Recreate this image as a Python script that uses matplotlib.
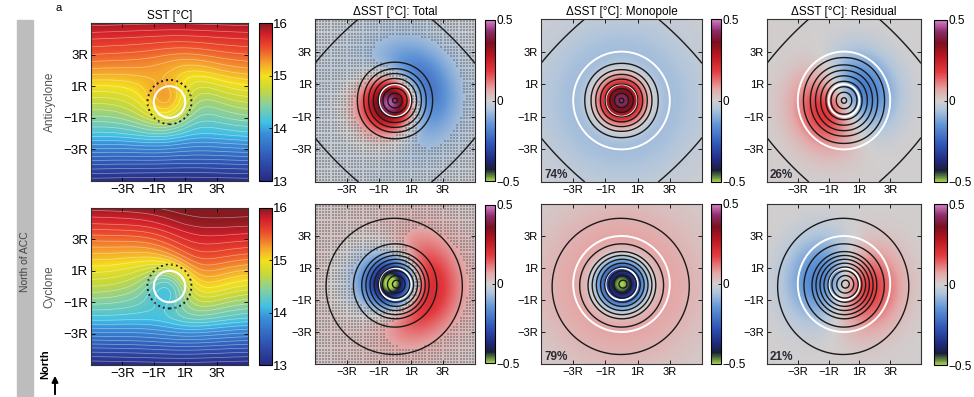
import numpy as np
import matplotlib
matplotlib.use("Agg")
import matplotlib.pyplot as plt
from matplotlib.colors import LinearSegmentedColormap, Normalize
from matplotlib.cm import ScalarMappable
from matplotlib.patches import Circle, Rectangle, FancyArrowPatch

plt.rcParams['font.family'] = ['Liberation Sans', 'DejaVu Sans']

# ---------------- data ----------------
tick_vals = [-3, -1, 1, 3]
tick_labels = ['\u22123R', '\u22121R', '1R', '3R']
row_names = ['Anticyclone', 'Cyclone']
panel_titles = ['SST [\u00b0C]', '\u0394SST [\u00b0C]: Total',
                '\u0394SST [\u00b0C]: Monopole', '\u0394SST [\u00b0C]: Residual']
monopole_share = ['74%', '79%']
residual_share = ['26%', '21%']
sst_ticks = [13, 14, 15, 16]
dsst_ticks = [-0.5, 0, 0.5]
dsst_tick_labels = ['\u22120.5', '0', '0.5']

# background SST meridional profile (deg C) at y nodes (R)
y_nodes = [-5, -4, -3, -2, -1, 0, 1, 2, 3, 4, 5]
sst_profile = [
    [13.05, 13.4, 13.8, 14.2, 14.5, 14.75, 15.02, 15.3, 15.52, 15.72, 15.95],
    [13.0, 13.35, 13.75, 14.15, 14.45, 14.75, 15.02, 15.3, 15.55, 15.8, 16.0],
]
# zonal tilt of the upper isotherms (deg C, east minus west half-difference)
sst_tilt = [0.0, 0.15]

# monopole: core Gaussian + broad Gaussian of opposite sign (deg C, R)
mono_core_amp = [0.55, -0.62]
mono_core_scale = [1.5, 1.45]
mono_broad_amp = [-0.12, 0.12]
mono_broad_scale = [4.5, 4.5]
# residual dipole: peak amplitude (deg C), scale (R), direction of warm lobe (deg)
dip_amp = [0.19, 0.18]
dip_scale = [2.3, 2.5]
dip_angle = [208, -12]

# eddy SSH contours, in units of eddy radius
ring_levels = [
    [0.15, 0.45, 0.75, 1.05, 1.35, 1.65, 1.95, 2.35],
    [0.25, 0.55, 0.85, 1.1, 1.35, 1.6, 1.85, 2.1, 2.6, 4.25],
]
ring_stretch = [[1.0, 0.97, 1.12], [1.0, 1.0, 1.0]]
corner_level = [6.45, None]
# white reference circles (R) for Total, Monopole, Residual
ref_circles = [[1], [1, 3], [1, 3]]
sst_circle_r = 1.0
sst_dotted_r = 1.4
signif_threshold = 0.07

# ---------------- fields ----------------
g = np.linspace(-5, 5, 301)
X, Y = np.meshgrid(g, g)
R = np.hypot(X, Y)
TH = np.arctan2(Y, X)


def monopole(i):
    return (mono_core_amp[i] * np.exp(-(R / mono_core_scale[i]) ** 2)
            + mono_broad_amp[i] * np.exp(-(R / mono_broad_scale[i]) ** 2))


def dipole(i):
    a = np.deg2rad(dip_angle[i])
    L = dip_scale[i]
    u = X * np.cos(a) + Y * np.sin(a)
    peak = (1 / np.sqrt(2)) * np.exp(-0.5)
    return dip_amp[i] / peak * (u / L) * np.exp(-(R / L) ** 2)


def ring_field(i):
    if i == 0:
        p = 2.1
        return (np.abs(X) ** p + np.abs(Y) ** p) ** (1 / p)
    return np.hypot(X - 0.1, Y) * (1 + 0.05 * np.cos(TH - np.pi / 4))


corner_field = (np.abs(X) ** 1.25 + np.abs(Y) ** 1.25) ** (1 / 1.25)

# ---------------- colormaps ----------------
dcmap_nodes = [-0.5, -0.465, -0.43, -0.37, -0.27, -0.15, -0.05, 0.0,
               0.07, 0.18, 0.28, 0.36, 0.43, 0.5]
dcmap_colors = ['#a9d24c', '#55793f', '#1b1f38', '#202a7e', '#2f56b8', '#5f94d6',
                '#b2c6dc', '#d2cfcf', '#e5a7a7', '#e43a3e', '#b8161f', '#7a1020',
                '#8c2d6b', '#d57fc9']
dcmap = LinearSegmentedColormap.from_list(
    'dsst', [((v + 0.5), c) for v, c in zip(dcmap_nodes, dcmap_colors)])
dnorm = Normalize(-0.5, 0.5)

scmap_nodes = [0.0, 0.14, 0.3, 0.37, 0.48, 0.58, 0.667, 0.75, 0.85, 0.93, 1.0]
scmap_colors = ['#282a80', '#2f55b4', '#3a8ed8', '#3fc0e6', '#86cfa0', '#c8d83a',
                '#f4e01c', '#f5a02e', '#ec4a2c', '#d3202a', '#861a20']
scmap = LinearSegmentedColormap.from_list('sst', list(zip(scmap_nodes, scmap_colors)))
snorm = Normalize(13, 16)

# ---------------- figure ----------------
W, H = 974, 397
fig = plt.figure(figsize=(W / 100, H / 100), dpi=100)


def box(l, t, r, b):
    return [l / W, 1 - b / H, (r - l) / W, (b - t) / H]


def style_axes(ax, fs):
    ax.set_xlim(-5, 5)
    ax.set_ylim(-5, 5)
    ax.set_xticks(tick_vals)
    ax.set_yticks(tick_vals)
    ax.set_xticklabels(tick_labels, fontsize=fs)
    ax.set_yticklabels(tick_labels, fontsize=fs)
    ax.tick_params(direction='in', length=3, width=0.6, top=True, right=True, pad=2)
    for s in ax.spines.values():
        s.set_linewidth(0.8)
        s.set_color('#333333')


def style_cbar(cb, ticks, labels, fs):
    cb.set_ticks(ticks)
    cb.set_ticklabels(labels)
    cb.ax.tick_params(direction='in', length=2.5, width=0.6, labelsize=fs, pad=1)
    cb.outline.set_linewidth(0.8)


sst_boxes = [(91, 23, 248, 181), (91, 208, 248, 365)]
sst_cbar_boxes = [(259, 23, 272, 181), (259, 208, 272, 365)]
d_boxes = [
    [(315, 19, 475, 182), (541, 19, 702, 182), (767, 19, 921, 182)],
    [(315, 204, 475, 364), (541, 204, 702, 364), (767, 204, 921, 364)],
]
d_cbar_boxes = [
    [(485, 20, 495, 181), (711, 19, 721, 182), (934, 20, 947, 182)],
    [(485, 205, 495, 363), (711, 204, 721, 364), (934, 204, 947, 365)],
]

stip = np.arange(-4.9, 5.0, 0.2)
SX, SY = np.meshgrid(stip, stip)
sidx = np.clip(np.round((SX + 5) / 10 * 300).astype(int), 0, 300)
sidy = np.clip(np.round((SY + 5) / 10 * 300).astype(int), 0, 300)

for i in range(2):
    mono = monopole(i)
    resid = dipole(i)
    total = mono + resid
    panels = [total, mono, resid]

    # SST panel: meridional background, zonal tilt and the eddy anomaly
    bg = np.interp(Y, y_nodes, sst_profile[i])
    tilt = sst_tilt[i] * np.tanh(X / 2.0) * np.exp(-((Y - 2.5) / 3.0) ** 2)
    sst = bg + tilt + total
    ax = fig.add_axes(box(*sst_boxes[i]))
    im = ax.imshow(sst, extent=(-5, 5, -5, 5), origin='lower', cmap=scmap,
                   norm=snorm, aspect='auto', interpolation='bilinear')
    ax.contour(X, Y, sst, levels=np.arange(13.0, 16.05, 0.1), colors='white',
               linewidths=0.5, alpha=0.45)
    ax.add_patch(Circle((0, 0), sst_circle_r, fill=False, ec='white', lw=1.5))
    ax.add_patch(Circle((0, 0), sst_dotted_r, fill=False, ec='#1a1a1a', lw=1.4,
                        ls=(0, (1, 1.6))))
    style_axes(ax, 9.5)
    ax.set_ylabel(row_names[i], fontsize=8.5, color='#555555')
    ax.yaxis.set_label_coords(-0.225, 0.5)
    if i == 0:
        ax.set_title(panel_titles[0], fontsize=8.5, pad=3)
    cax = fig.add_axes(box(*sst_cbar_boxes[i]))
    cb = fig.colorbar(im, cax=cax)
    style_cbar(cb, sst_ticks, [str(t) for t in sst_ticks], 9.5)

    # Delta SST panels
    for j in range(3):
        field = panels[j]
        ax = fig.add_axes(box(*d_boxes[i][j]))
        ax.imshow(field, extent=(-5, 5, -5, 5), origin='lower', cmap=dcmap,
                  norm=dnorm, aspect='auto', interpolation='bilinear')
        if j == 0:
            m = np.abs(total[sidy, sidx]) < signif_threshold
            ax.scatter(SX[m], SY[m], s=0.9, marker='s', c='#7a7a7a',
                       linewidths=0, alpha=0.65)
        rf = ring_field(i) / ring_stretch[i][j]
        ax.contour(X, Y, rf, levels=ring_levels[i], colors='#1a1a1a', linewidths=1.0)
        if corner_level[i] is not None:
            ax.contour(X, Y, corner_field, levels=[corner_level[i]],
                       colors='#1a1a1a', linewidths=1.0)
        for rc in ref_circles[j]:
            ax.add_patch(Circle((0, 0), rc, fill=False, ec='white', lw=1.4))
        style_axes(ax, 8)
        if i == 0:
            ax.set_title(panel_titles[j + 1], fontsize=8.5, pad=3)
        if j == 1:
            ax.text(-4.8, -4.75, monopole_share[i], fontsize=8.5, fontweight='bold',
                    color='#2a2a35')
        if j == 2:
            ax.text(-4.8, -4.75, residual_share[i], fontsize=8.5, fontweight='bold',
                    color='#2a2a35')
        cax = fig.add_axes(box(*d_cbar_boxes[i][j]))
        cb = fig.colorbar(ScalarMappable(norm=dnorm, cmap=dcmap), cax=cax)
        style_cbar(cb, dsst_ticks, dsst_tick_labels, 8.5)

# side bar, panel letter and north arrow
fig.add_artist(Rectangle((17 / W, 0), 16 / W, (H - 20) / H, transform=fig.transFigure,
                         color='#bdbdbd', zorder=0))
fig.text(25 / W, 1 - 262 / H, 'North of ACC', rotation=90, ha='center', va='center',
         fontsize=7.5, color='#444444')
fig.text(55 / W, 1 - 8 / H, 'a', ha='left', va='center', fontsize=8)
fig.text(45 / W, 1 - 364 / H, 'North', rotation=90, ha='center', va='center',
         fontsize=8, fontweight='bold')
fig.add_artist(FancyArrowPatch(
    (55 / W, 0.0), (55 / W, 24 / H), transform=fig.transFigure,
    arrowstyle='-|>', mutation_scale=9, lw=1.4, color='black'))

fig.savefig('out.png', dpi=100)
